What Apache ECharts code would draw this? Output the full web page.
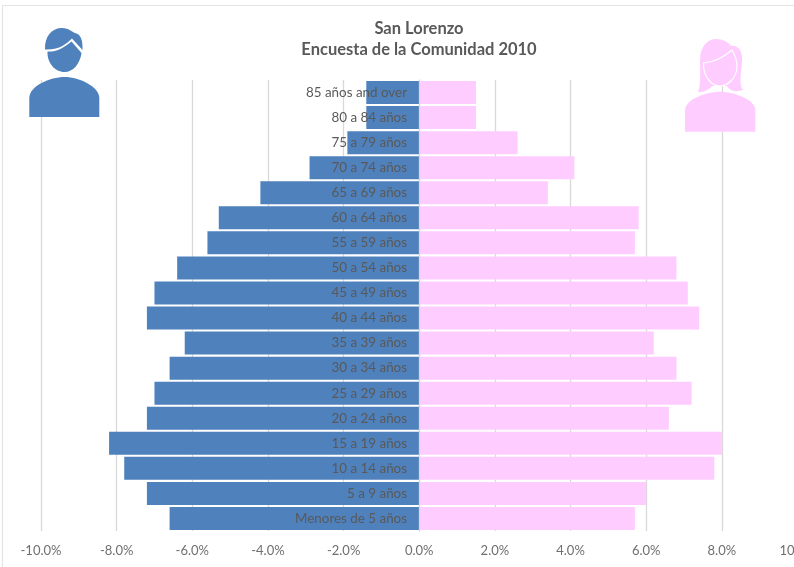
<!DOCTYPE html>
<html>
<head>
<meta charset="utf-8">
<style>html,body{margin:0;padding:0;background:#fff;overflow:hidden}#chart{width:794px;height:567px}</style>
<script src="https://cdn.jsdelivr.net/npm/echarts@6/dist/echarts.min.js"></script>
</head>
<body>
<div id="chart"></div>
<script>
// Age groups, oldest first
const ageGroups = ['85 años and over','80 a 84 años','75 a 79 años','70 a 74 años','65 a 69 años','60 a 64 años','55 a 59 años','50 a 54 años','45 a 49 años','40 a 44 años','35 a 39 años','30 a 34 años','25 a 29 años','20 a 24 años','15 a 19 años','10 a 14 años','5 a 9 años','Menores de 5 años'];
// Share of the population, percent; men are negative so they extend left
const hombres = [-1.4,-1.4,-1.9,-2.9,-4.2,-5.3,-5.6,-6.4,-7.0,-7.2,-6.2,-6.6,-7.0,-7.2,-8.2,-7.8,-7.2,-6.6];
const mujeres = [1.5,1.5,2.6,4.1,3.4,5.8,5.7,6.8,7.1,7.4,6.2,6.8,7.2,6.6,8.0,7.8,6.0,5.7];
const titleLines = ['San Lorenzo','Encuesta de la Comunidad 2010'];

const BLUE = '#4f81bd', PINK = '#ffccff', TEXT = '#595959', TICK = '#6f6f6f', FONT = 'Lato';

// Pictograms in page coordinates, registered as reusable shapes
const icons = {
  manHair: 'M45,49.5 C44.5,36 52,28 62,28 C69,28 72,32 75,33 C81,34 83,41 82.5,50 L72,38.5 C66,44 60,50 45,49.5 Z',
  manFace: 'M47.5,51.5 C56,52 62,49 71.5,41.5 L81.5,53 C80,64 73,72 64.5,72 C55,72 47,63 47.5,51.5 Z',
  manBody: 'M29.3,117 L29.3,98 C29.3,86 50,77 64.5,77 C80,77 99.3,87 99.3,98 L99.3,117 Z',
  womanHair: 'M698,92 C701,86 700,70 700,60 C700,46 708,39 716,39 C723,39 728,42 731,46 C737,45 742,50 742,58 C742,70 738,84 743,90 C738,92 730,92 727,86 L712,86 C708,91 703,92 698,92 Z',
  womanFace: 'M703.5,63 C715,62 725,56 732,50 C735,55 737.5,60 737,68 C736,78 728,86 720,86 C711,86 703,76 703.5,63 Z',
  womanBody: 'M685,131.7 L685,110 C685,100 705,91.7 720,91.7 C735,91.7 755.3,100 755.3,110 L755.3,131.7 Z'
};
Object.keys(icons).forEach(name => {
  echarts.graphic.registerShape(name, echarts.graphic.extendPath(icons[name], {}));
});
const iconEl = (name, style) => ({ type: name, style, z: 20 });

const chart = echarts.init(document.getElementById('chart'), null, { renderer: 'canvas' });
chart.setOption({
  animation: false,
  backgroundColor: '#fff',
  textStyle: { fontFamily: FONT },
  title: {
    text: titleLines.join('\n'),
    left: 414,
    top: 13,
    textAlign: 'center',
    textStyle: { fontFamily: FONT, fontSize: 16.5, fontWeight: 'bold', color: TEXT, lineHeight: 21 }
  },
  grid: { left: 41, top: 80, width: 756.5, height: 451, outerBoundsMode: 'none' },
  xAxis: {
    type: 'value',
    min: -10, max: 10, interval: 2,
    axisLine: { show: false },
    axisTick: { show: false },
    axisLabel: {
      color: TICK, fontFamily: FONT, fontSize: 13, margin: 13,
      showMinLabel: true, showMaxLabel: true, hideOverlap: false,
      formatter: v => v.toFixed(1) + '%'
    },
    splitLine: { lineStyle: { color: '#d9d9d9', width: 1.3 } }
  },
  yAxis: {
    type: 'category',
    inverse: true,
    data: ageGroups,
    z: 10,
    axisLine: { show: true, onZero: true, lineStyle: { color: '#d9d9d9', width: 1.3 } },
    axisTick: { show: false },
    // Labels sit just left of the zero line, on top of the men's bars
    axisLabel: { color: TEXT, fontFamily: FONT, fontSize: 13.4, margin: -366, interval: 0 }
  },
  series: [
    { name: 'Hombres', type: 'bar', stack: 'pop', data: hombres, barWidth: 23, itemStyle: { color: BLUE } },
    { name: 'Mujeres', type: 'bar', stack: 'pop', data: mujeres, barWidth: 23, itemStyle: { color: PINK } }
  ],
  graphic: [
    { type: 'rect', shape: { x: 2.5, y: 5.5, width: 900, height: 700 }, style: { fill: 'none', stroke: '#e4e4e4', lineWidth: 1.2 }, z: 1 },
    iconEl('manHair', { fill: BLUE }),
    iconEl('manFace', { fill: BLUE }),
    iconEl('manBody', { fill: BLUE }),
    iconEl('womanHair', { fill: PINK }),
    iconEl('womanFace', { fill: PINK, stroke: '#fff', lineWidth: 1.2 }),
    iconEl('womanBody', { fill: PINK })
  ]
});
</script>
</body>
</html>
